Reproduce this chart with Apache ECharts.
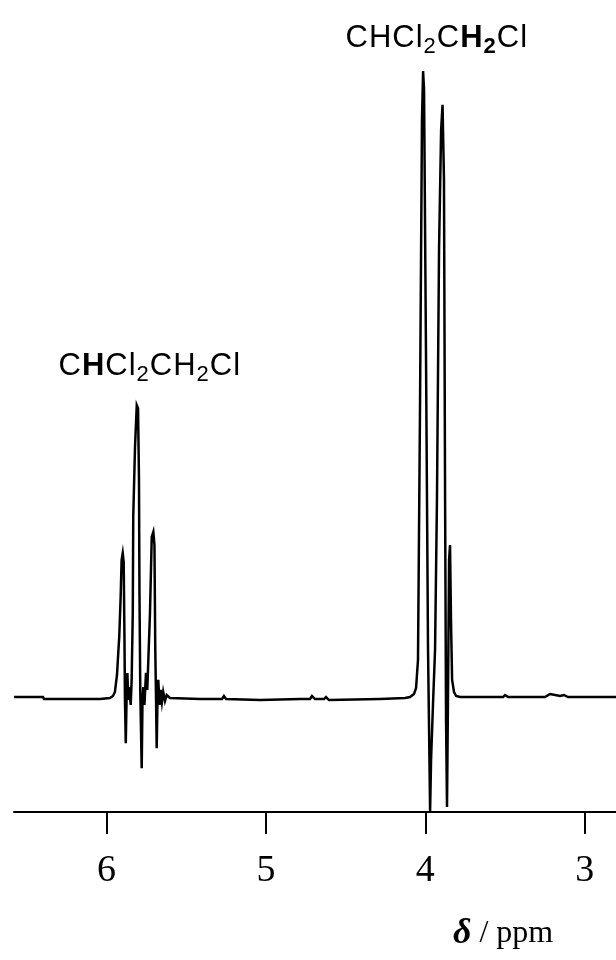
<!DOCTYPE html>
<html>
<head>
<meta charset="utf-8">
<script src="https://cdn.jsdelivr.net/npm/echarts@6/dist/echarts.min.js"></script>
<style>
html,body{margin:0;padding:0;background:#fff;}
#chart{width:616px;height:960px;}
</style>
</head>
<body>
<div id="chart"></div>
<script>
// Chemical shift (ppm) of each traced point of the 1H NMR trace
const shiftPpm = [
  6.580, 6.398, 6.392, 6.166, 6.041, 5.978, 5.959, 5.947, 5.934, 5.926,
  5.920, 5.911, 5.905, 5.898, 5.892, 5.887, 5.884, 5.879, 5.874, 5.869,
  5.863, 5.857, 5.848, 5.842, 5.835, 5.832, 5.821, 5.810, 5.802, 5.796,
  5.793, 5.788, 5.779, 5.774, 5.769, 5.762, 5.752, 5.744, 5.738, 5.727,
  5.716, 5.706, 5.699, 5.694, 5.689, 5.685, 5.680, 5.675, 5.667, 5.660,
  5.652, 5.644, 5.633, 5.622, 5.602, 5.413, 5.275, 5.263, 5.250, 5.037,
  4.786, 4.723, 4.711, 4.692, 4.635, 4.623, 4.604, 4.284, 4.127, 4.096,
  4.071, 4.058, 4.046, 4.033, 4.021, 4.014, 4.008, 3.996, 3.983, 3.970,
  3.964, 3.952, 3.939, 3.927, 3.914, 3.901, 3.892, 3.883, 3.876, 3.870,
  3.864, 3.858, 3.851, 3.845, 3.839, 3.832, 3.820, 3.807, 3.782, 3.657,
  3.512, 3.500, 3.481, 3.249, 3.218, 3.186, 3.155, 3.130, 3.105, 2.804
];
// Relative intensity (tallest line = 100, baseline = 0)
const intensity = [
  0.16, 0.16, -0.16, -0.16, -0.16, 0, 0.32, 0.96, 3.67, 7.2,
  9.7, 16.1, 22.0, 23.1, 21.7, 9.25, -0.32, -7.2, -0.32, 4.0,
  -0.32, 1.75, -1.1, 2.9, 13.6, 28.9, 40.0, 46.7, 46.2, 34.8,
  16.7, 1.3, -11.2, -0.32, 1.75, -1.1, 4.0, 1.3, 5.6, 13.6,
  25.7, 26.5, 24.4, 8.1, -0.32, -8.0, -0.32, 2.9, -1.1, 1.3,
  -0.64, 0.96, -0.48, 0.48, 0, -0.16, -0.16, 0.32, -0.16, -0.32,
  -0.16, -0.16, 0.32, -0.16, -0.16, 0.16, -0.32, -0.16, 0, 0.16,
  0.64, 1.6, 6.1, 47.5, 92.2, 100, 97.0, 55.5, 7.7, -18.0,
  -9.9, -1.1, 7.7, 31.6, 71.5, 90.6, 94.6, 82.6, 31.6, -3.5,
  -17.4, -0.32, 22.0, 24.4, 12.4, 2.9, 0.96, 0.32, 0.16, 0.16,
  0.16, 0.48, 0.16, 0.16, 0.64, 0.48, 0.32, 0.48, 0.16, 0.16
];
// Axis tick values and labels
const tickValues = [6, 5, 4, 3];
const tickLabels = ['6', '5', '4', '3'];
const axisTitle = ['δ', ' / ppm'];
// Peak assignment labels (segments: [style, text])
const labelTriplet = [['g','C'],['b','H'],['g','C'],['g','l'],['s','2'],['g','C'],['g','H'],['s','2'],['g','C'],['g','l']];
const labelDoublet = [['g','C'],['g','H'],['g','C'],['g','l'],['s','2'],['g','C'],['b','H'],['bs','2'],['g','C'],['g','l']];

const richLabel = {
  g:  {fontFamily:'Liberation Sans', fontSize:31, color:'#a3a3a3', lineHeight:40, verticalAlign:'middle', padding:[0,0.5]},
  b:  {fontFamily:'Liberation Sans', fontSize:31, fontWeight:'bold', color:'#000', lineHeight:40, verticalAlign:'middle', padding:[0,0.5]},
  s:  {fontFamily:'Liberation Sans', fontSize:22, color:'#a3a3a3', lineHeight:22, verticalAlign:'bottom', padding:[0,0.5]},
  bs: {fontFamily:'Liberation Sans', fontSize:22, fontWeight:'bold', color:'#000', lineHeight:22, verticalAlign:'bottom', padding:[0,0.5]}
};
function richText(segs){ return segs.map(s => '{' + s[0] + '|' + s[1] + '}').join(''); }

const chart = echarts.init(document.getElementById('chart'), null, {renderer:'canvas'});
chart.setOption({
  animation: false,
  backgroundColor: '#fff',
  grid: {left: 14, right: 0, top: 71, bottom: 148, containLabel: false, outerBoundsMode: 'none'},
  xAxis: {
    type: 'value',
    inverse: true,
    min: 2.804,
    max: 6.580,
    axisLine: {show: true, onZero: false, lineStyle: {color: '#000', width: 2}},
    axisTick: {show: true, customValues: tickValues, length: 22, lineStyle: {color: '#000', width: 2}},
    axisLabel: {
      show: true, customValues: tickValues, margin: 40,
      fontFamily: 'Liberation Serif', fontSize: 38, color: '#000',
      formatter: v => tickLabels[tickValues.indexOf(Math.round(v))] ?? String(v)
    },
    splitLine: {show: false}
  },
  yAxis: {
    type: 'value', show: false, min: -18.18, max: 100,
    splitLine: {show: false}
  },
  series: [{
    type: 'line',
    data: shiftPpm.map((p, i) => [p, intensity[i]]),
    showSymbol: false,
    symbol: 'none',
    smooth: false,
    lineStyle: {color: '#000', width: 2.5, join: 'miter'},
    silent: true
  }],
  graphic: [
    {type: 'text', x: 345, y: 38, silent: true,
     style: {text: richText(labelDoublet), rich: richLabel, align: 'left', verticalAlign: 'middle'}},
    {type: 'text', x: 58, y: 366, silent: true,
     style: {text: richText(labelTriplet), rich: richLabel, align: 'left', verticalAlign: 'middle'}},
    {type: 'text', x: 453, y: 934, silent: true,
     style: {
       text: '{d|' + axisTitle[0] + '}{t|' + axisTitle[1] + '}',
       align: 'left', verticalAlign: 'middle',
       rich: {
         d: {fontFamily: 'Liberation Serif', fontSize: 36, fontStyle: 'italic', fontWeight: 'bold', color: '#000'},
         t: {fontFamily: 'Liberation Serif', fontSize: 32, color: '#000'}
       }
     }}
  ]
});
</script>
</body>
</html>
